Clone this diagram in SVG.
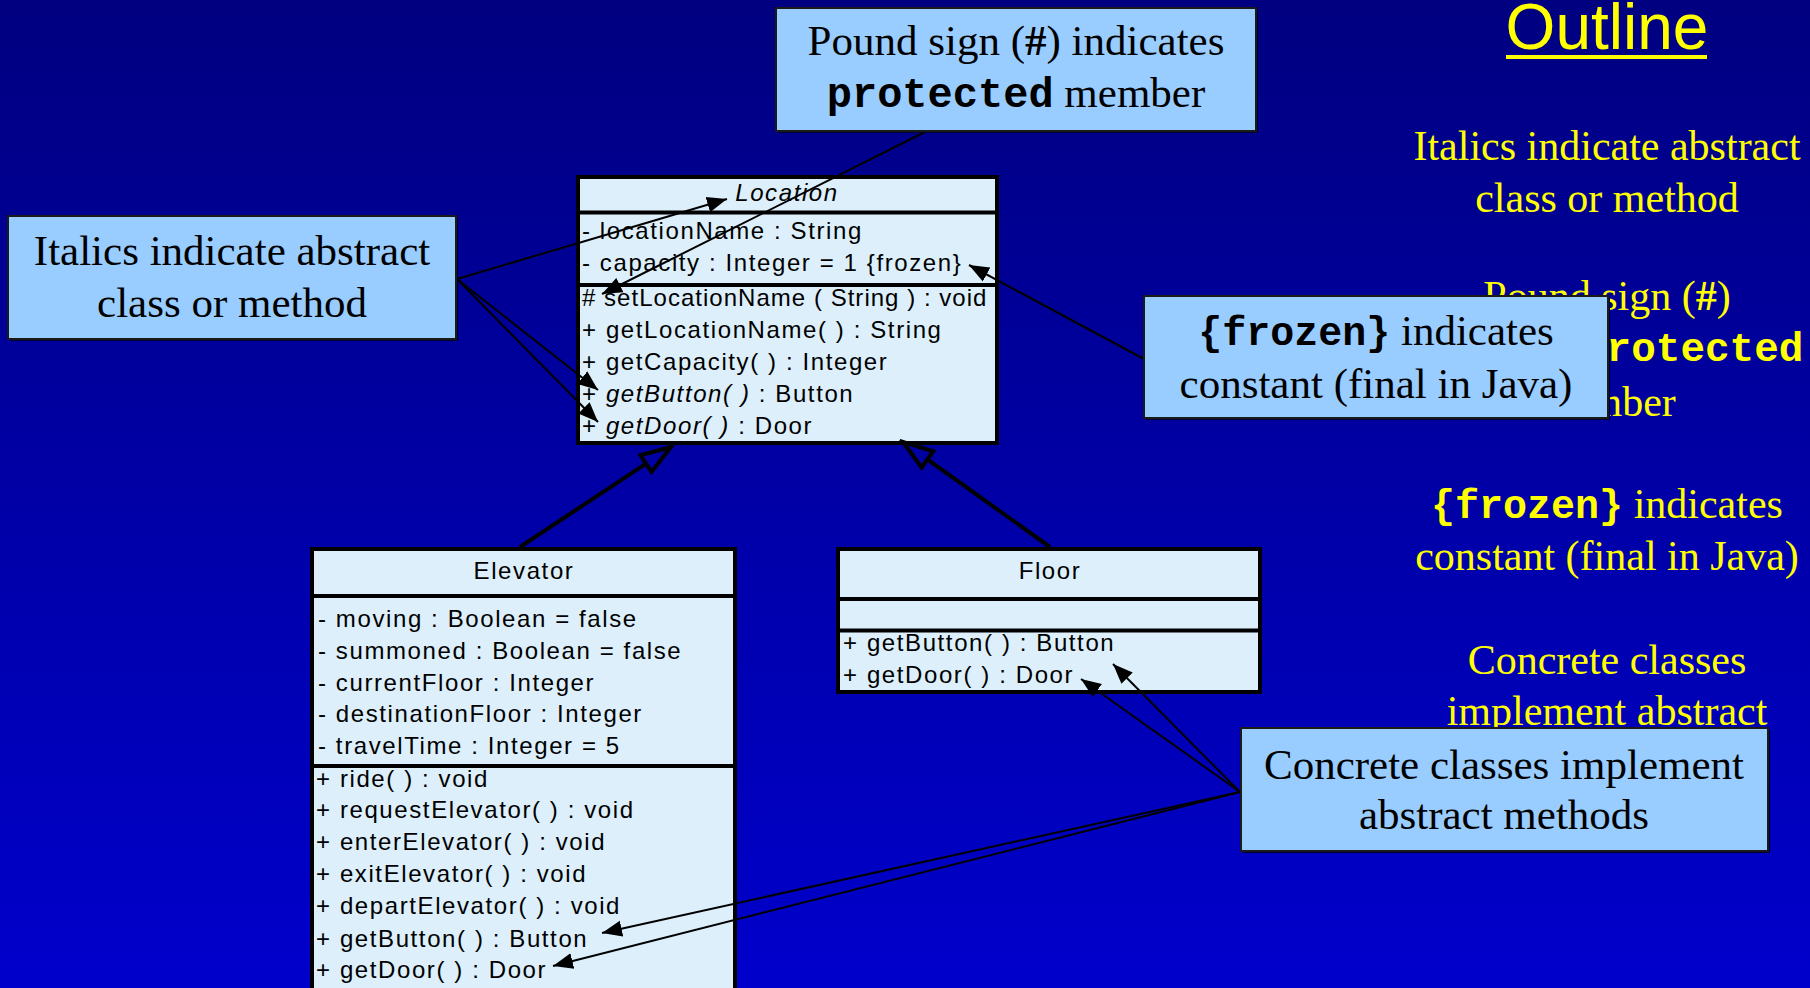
<svg xmlns="http://www.w3.org/2000/svg" width="1810" height="988" viewBox="0 0 1810 988">
  <defs>
    <linearGradient id="bg" x1="0" y1="0" x2="0" y2="1">
      <stop offset="0" stop-color="#000080"/>
      <stop offset="1" stop-color="#0000CC"/>
    </linearGradient>
    <marker id="arrow" markerUnits="userSpaceOnUse" viewBox="0 -10 22 20" refX="20" refY="0" markerWidth="22" markerHeight="20" orient="auto">
      <path d="M0,-8 L20,0 L0,8 z" fill="#000"/>
    </marker>
    <marker id="gen" markerUnits="userSpaceOnUse" viewBox="-4 -14 38 28" refX="0" refY="0" markerWidth="38" markerHeight="28" orient="auto">
      <path d="M0,-10 L30,0 L0,10 z" fill="none" stroke="#000" stroke-width="4" stroke-linejoin="miter"/>
    </marker>
    <style>
      .cls { fill: #DCEFFB; stroke: #000; stroke-width: 4; }
      .sep { stroke: #000; stroke-width: 4; }
      .uml { font-family: "Liberation Sans", Arial, sans-serif; font-size: 24px; letter-spacing: 1.6px; fill: #000; }
      .it { font-style: italic; }
      .callout { fill: #99CCFF; stroke: #1a1a1a; stroke-width: 2; }
      .shadow { fill: #000033; }
      .note { font-family: "Liberation Serif", "Times New Roman", serif; font-size: 43px; fill: #000; text-anchor: middle; }
      .yel { font-family: "Liberation Serif", "Times New Roman", serif; font-size: 42px; fill: #FFFF00; text-anchor: middle; }
      .mono { font-family: "Liberation Mono", "Courier New", monospace; font-weight: bold; }
      .link { stroke: #000; stroke-width: 2; fill: none; }
      .genl { stroke: #000; stroke-width: 4; fill: none; }
    </style>
  </defs>

  <rect x="0" y="0" width="1810" height="988" fill="url(#bg)"/>

  <g id="outline">
    <text x="1607" y="48.5" text-anchor="middle" font-family="Liberation Sans, Arial, sans-serif" font-size="64" fill="#FFFF00">Outline</text>
    <rect x="1506" y="55" width="201" height="4" fill="#FFFF00"/>
    <text class="yel" x="1607" y="160">Italics indicate abstract</text>
    <text class="yel" x="1607" y="212">class or method</text>
    <text class="yel" x="1607" y="310">Pound sign (<tspan font-weight="bold">#</tspan>)</text>
    <text class="yel" x="1582" y="361" style="text-anchor:start"><tspan class="mono" font-size="41">protected</tspan></text>
    <text class="yel" x="1607" y="416">member</text>
    <text class="yel" x="1607" y="518"><tspan class="mono" font-size="40">{frozen}</tspan> indicates</text>
    <text class="yel" x="1607" y="570">constant (final in Java)</text>
    <text class="yel" x="1607" y="674">Concrete classes</text>
    <text class="yel" x="1607" y="725">implement abstract</text>
  </g>

  <g id="Location">
    <rect class="cls" x="578" y="177" width="419" height="266"/>
    <line class="sep" x1="578" y1="212.5" x2="997" y2="212.5"/>
    <line class="sep" x1="578" y1="285" x2="997" y2="285"/>
    <text class="uml it" x="787" y="201" text-anchor="middle">Location</text>
    <text class="uml" x="582" y="239">- locationName : String</text>
    <text class="uml" x="582" y="271">- capacity : Integer = 1 {frozen}</text>
    <text class="uml" x="582" y="305.5" textLength="406" lengthAdjust="spacing"># setLocationName ( String ) : void</text>
    <text class="uml" x="582" y="337.5">+ getLocationName( ) : String</text>
    <text class="uml" x="582" y="370">+ getCapacity( ) : Integer</text>
    <text class="uml" x="582" y="402">+ <tspan class="it">getButton( )</tspan> : Button</text>
    <text class="uml" x="582" y="434">+ <tspan class="it">getDoor( )</tspan> : Door</text>
  </g>

  <g id="Elevator">
    <rect class="cls" x="312" y="549" width="423" height="460"/>
    <line class="sep" x1="312" y1="596" x2="735" y2="596"/>
    <line class="sep" x1="312" y1="766" x2="735" y2="766"/>
    <text class="uml" x="524" y="579" text-anchor="middle">Elevator</text>
    <text class="uml" x="318" y="627">- moving : Boolean = false</text>
    <text class="uml" x="318" y="659">- summoned : Boolean = false</text>
    <text class="uml" x="318" y="691">- currentFloor : Integer</text>
    <text class="uml" x="318" y="722">- destinationFloor : Integer</text>
    <text class="uml" x="318" y="754">- travelTime : Integer = 5</text>
    <text class="uml" x="316" y="787">+ ride( ) : void</text>
    <text class="uml" x="316" y="818">+ requestElevator( ) : void</text>
    <text class="uml" x="316" y="850">+ enterElevator( ) : void</text>
    <text class="uml" x="316" y="882">+ exitElevator( ) : void</text>
    <text class="uml" x="316" y="914">+ departElevator( ) : void</text>
    <text class="uml" x="316" y="947">+ getButton( ) : Button</text>
    <text class="uml" x="316" y="978">+ getDoor( ) : Door</text>
  </g>

  <g id="Floor">
    <rect class="cls" x="838" y="549" width="422" height="143"/>
    <line class="sep" x1="838" y1="599" x2="1260" y2="599"/>
    <line class="sep" x1="838" y1="630.5" x2="1260" y2="630.5"/>
    <text class="uml" x="1050" y="579" text-anchor="middle">Floor</text>
    <text class="uml" x="843" y="651">+ getButton( ) : Button</text>
    <text class="uml" x="843" y="683">+ getDoor( ) : Door</text>
  </g>

  <g id="connectors">
    <line id="gen-elevator" class="genl" x1="520" y1="547" x2="646" y2="463.6" marker-end="url(#gen)"/>
    <line id="gen-floor" class="genl" x1="1050" y1="547" x2="927.4" y2="459.4" marker-end="url(#gen)"/>
    <line id="c-pound" class="link" x1="927" y1="131" x2="602" y2="294" marker-end="url(#arrow)"/>
    <line id="c-italic-title" class="link" x1="457" y1="279" x2="727" y2="199" marker-end="url(#arrow)"/>
    <line id="c-italic-button" class="link" x1="457" y1="279" x2="598" y2="390" marker-end="url(#arrow)"/>
    <line id="c-italic-door" class="link" x1="457" y1="279" x2="598" y2="422" marker-end="url(#arrow)"/>
    <line id="c-frozen" class="link" x1="1144" y1="359" x2="969" y2="265" marker-end="url(#arrow)"/>
    <line id="c-conc-fbutton" class="link" x1="1240" y1="792" x2="1113" y2="664" marker-end="url(#arrow)"/>
    <line id="c-conc-fdoor" class="link" x1="1240" y1="792" x2="1081" y2="679" marker-end="url(#arrow)"/>
    <line id="c-conc-ebutton" class="link" x1="1240" y1="792" x2="602" y2="933" marker-end="url(#arrow)"/>
    <line id="c-conc-edoor" class="link" x1="1240" y1="792" x2="553" y2="966" marker-end="url(#arrow)"/>
  </g>

  <g id="note-pound">
    <rect class="shadow" x="778" y="10" width="480" height="123"/>
    <rect class="callout" x="776" y="8" width="480" height="123"/>
    <text class="note" x="1016" y="55">Pound sign (<tspan font-weight="bold">#</tspan>) indicates</text>
    <text class="note" x="1016" y="107"><tspan class="mono" font-size="42">protected</tspan> member</text>
  </g>

  <g id="note-italics">
    <rect class="shadow" x="10" y="218" width="448" height="123"/>
    <rect class="callout" x="8" y="216" width="448" height="123"/>
    <text class="note" x="232" y="265">Italics indicate abstract</text>
    <text class="note" x="232" y="317">class or method</text>
  </g>

  <g id="note-frozen">
    <rect class="shadow" x="1146" y="298" width="464" height="122"/>
    <rect class="callout" x="1144" y="296" width="464" height="122"/>
    <text class="note" x="1376" y="345" font-size="42"><tspan class="mono" font-size="40">{frozen}</tspan> indicates</text>
    <text class="note" x="1376" y="398" font-size="42">constant (final in Java)</text>
  </g>

  <g id="note-concrete">
    <rect class="shadow" x="1243" y="730" width="527" height="123"/>
    <rect class="callout" x="1241" y="728" width="527" height="123"/>
    <text class="note" x="1504" y="779">Concrete classes implement</text>
    <text class="note" x="1504" y="829">abstract methods</text>
  </g>
</svg>
